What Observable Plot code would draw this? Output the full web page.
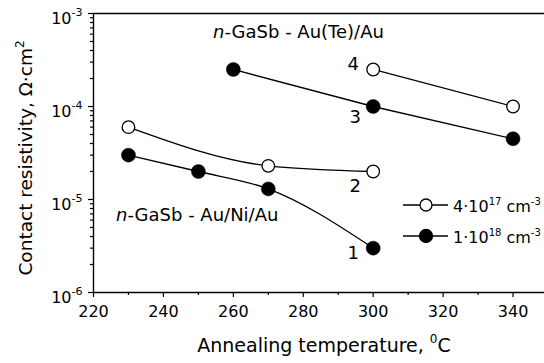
<!DOCTYPE html>
<html><head><meta charset="utf-8">
<script src="https://cdn.jsdelivr.net/npm/d3@7"></script>
<script src="https://cdn.jsdelivr.net/npm/@observablehq/plot@0.6"></script>
<style>
html,body{margin:0;padding:0;background:#fff}
svg{font-family:"DejaVu Sans",sans-serif}
</style>
</head><body><div id="chart"></div>
<script>
// ---- data ----
const temp1 = [230, 250, 270, 300];
const rho1  = [3e-5, 2e-5, 1.3e-5, 3e-6];
const temp2 = [230, 270, 300];
const rho2  = [6e-5, 2.3e-5, 2e-5];
const temp3 = [260, 300, 340];
const rho3  = [2.5e-4, 1e-4, 4.5e-5];
const temp4 = [300, 340];
const rho4  = [2.5e-4, 1e-4];
const seriesIds = ["1", "2", "3", "4"];
const seriesFilled = [true, false, true, false];
const seriesCurve = ["monotone-x", "monotone-x", "linear", "linear"];
const xTicks = [220, 240, 260, 280, 300, 320, 340];
const xMinorTicks = [230, 250, 270, 290, 310, 330, 350];
const yTicks = [1e-6, 1e-5, 1e-4, 1e-3];
const legendBase = ["4·10", "1·10"];
const legendExp = ["17", "18"];
const legendFilled = [false, true];
const annotations = ["n-GaSb - Au(Te)/Au", "n-GaSb - Au/Ni/Au"];

const temps = [temp1, temp2, temp3, temp4];
const rhos = [rho1, rho2, rho3, rho4];
const rows = [];
seriesIds.forEach((id, i) => temps[i].forEach((t, j) => rows.push({id, t, r: rhos[i][j], filled: seriesFilled[i]})));

const yMinor = [];
for (const d of [1e-6, 1e-5, 1e-4]) for (let m = 2; m <= 9; m++) yMinor.push(d * m);

const labelOffsets = {"1": [-20, 5.5], "2": [-18, 14.5], "3": [-18, 11], "4": [-20, -5]};

const marks = [
  Plot.axisX(xMinorTicks, {tickSize: 3, tickFormat: () => "", label: null, strokeWidth: 1.2}),
  Plot.axisX(xTicks, {tickSize: 5, tickPadding: 8, tickFormat: d => String(d), label: null, fontSize: 16, strokeWidth: 1.2}),
  Plot.axisY(yMinor, {tickSize: 3, tickFormat: () => "", label: null, strokeWidth: 1.2}),
  Plot.axisY(yTicks, {tickSize: 5, tickPadding: 6, tickFormat: d => "10^" + Math.round(Math.log10(d)), label: null, fontSize: 16, strokeWidth: 1.2}),
  Plot.ruleX([220], {strokeWidth: 1.4}),
  Plot.ruleY([1e-6], {strokeWidth: 1.4}),
  Plot.ruleY([1e-3], {strokeWidth: 1.4})
];
seriesIds.forEach((id, i) => {
  const d = rows.filter(r => r.id === id);
  marks.push(Plot.line(d, {x: "t", y: "r", curve: seriesCurve[i], stroke: "black", strokeWidth: 1.3}));
});
marks.push(Plot.dot(rows.filter(r => !r.filled), {x: "t", y: "r", r: 6.3, fill: "white", stroke: "black", strokeWidth: 1.3}));
marks.push(Plot.dot(rows.filter(r => r.filled), {x: "t", y: "r", r: 7, fill: "black", stroke: "black", strokeWidth: 0.5}));
seriesIds.forEach(id => {
  const d = rows.filter(r => r.id === id && r.t === 300);
  marks.push(Plot.text(d, {x: "t", y: "r", text: "id", dx: labelOffsets[id][0], dy: labelOffsets[id][1], fontSize: 18, fill: "black"}));
});

const svgEl = Plot.plot({
  width: 544, height: 363,
  marginLeft: 93, marginRight: 0, marginTop: 13, marginBottom: 71,
  style: {fontFamily: "DejaVu Sans, sans-serif", fontSize: "16px", background: "white", color: "black", overflow: "visible"},
  x: {domain: [220, 349]},
  y: {type: "log", domain: [1e-6, 1e-3]},
  marks
});
document.getElementById("chart").appendChild(svgEl);

const svg = d3.select(svgEl);

// superscript y tick labels
svg.selectAll('g[aria-label="y-axis tick label"] text').each(function() {
  const s = this.textContent;
  const m = s.match(/^10\^(-?\d+)$/);
  if (!m) return;
  const t = d3.select(this);
  t.text(null).attr("dy", null).attr("y", 10);
  t.append("tspan").text("10");
  t.append("tspan").attr("dy", -8).attr("font-size", 11).text(m[1]);
});

function rich(x, y, parts, size, anchor, transform) {
  const t = svg.append("text").attr("x", x).attr("y", y).attr("font-size", size)
    .attr("text-anchor", anchor || "start").attr("fill", "black");
  if (transform) t.attr("transform", transform);
  let raised = false;
  const supSize = Math.round(size * 0.65);
  const shift = Math.round(size * 0.45);
  parts.forEach(([txt, kind]) => {
    const sp = t.append("tspan").text(txt);
    if (kind === "sup") {
      sp.attr("font-size", supSize);
      if (!raised) { sp.attr("dy", -shift); raised = true; }
    } else {
      if (raised) { sp.attr("dy", shift); raised = false; }
      if (kind === "it") sp.attr("font-style", "italic");
    }
  });
  return t;
}

// annotations
rich(213, 38, [[annotations[0][0], "it"], [annotations[0].slice(1), ""]], 18);
rich(116, 221, [[annotations[1][0], "it"], [annotations[1].slice(1), ""]], 18);

// axis titles
rich(324, 352, [["Annealing temperature, ", ""], ["0", "sup"], ["C", ""]], 19, "middle");
rich(0, 0, [["Contact resistivity, Ω·cm", ""], ["2", "sup"]], 18.5, "middle", "translate(32,158) rotate(-90)");

// legend
legendBase.forEach((b, i) => {
  const y = 205 + i * 31;
  svg.append("line").attr("x1", 403).attr("x2", 448).attr("y1", y).attr("y2", y).attr("stroke", "black").attr("stroke-width", 1.3);
  svg.append("circle").attr("cx", 426).attr("cy", y).attr("r", legendFilled[i] ? 6.5 : 6)
    .attr("fill", legendFilled[i] ? "black" : "white").attr("stroke", "black").attr("stroke-width", 1.3);
  rich(453, y + 7, [[b, ""], [legendExp[i], "sup"], [" cm", ""], ["-3", "sup"]], 16);
});
</script>
</body></html>
